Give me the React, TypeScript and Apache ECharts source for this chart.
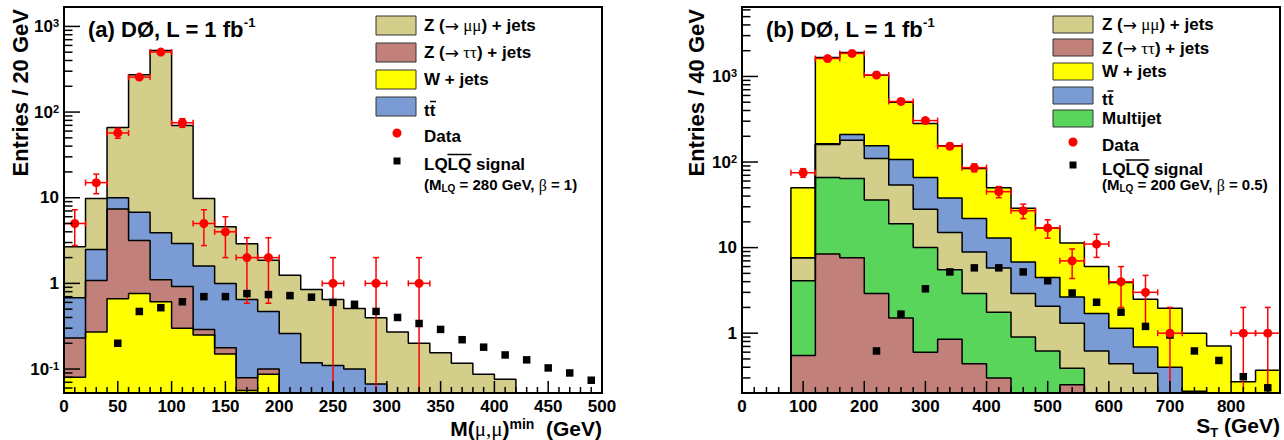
import React, { useEffect, useRef } from "react";
import * as echarts from "echarts";

const FONT = "'Liberation Sans', Arial, Helvetica, sans-serif";
const SERIF = "'Liberation Serif', 'Times New Roman', serif";
const ARROWFONT = "'DejaVu Sans', sans-serif";

// ---------------- Panel (a): M(mu,mu)^min, 20 GeV bins, 0..500 ----------------
const aBinStart = 0;
const aBinWidth = 20;
const aWjets = [0.08, 0.27, 0.66, 0.76, 0.61, 0.3, 0.25, 0.15, 0.056, 0.087, 0, 0, 0, 0, 0, 0, 0, 0, 0, 0, 0, 0, 0, 0, 0];
const aZtautau = [0.15, 0.81, 6.7, 2.4, 0.49, 0.62, 0.04, 0.027, 0.023, 0.013, 0, 0, 0, 0, 0, 0, 0, 0, 0, 0, 0, 0, 0, 0, 0];
const aTtbar = [0.45, 1.4, 2.6, 3.6, 2.8, 2.0, 1.3, 0.82, 0.57, 0.37, 0.26, 0.118, 0.11, 0.1, 0.067, 0, 0, 0, 0, 0, 0, 0, 0, 0, 0];
const aZmumu = [2.0, 7.3, 56, 265, 521, 67, 8.2, 3.6, 2.25, 1.39, 0.98, 0.73, 0.54, 0.41, 0.33, 0.27, 0.2, 0.155, 0.117, 0.087, 0.076, 0, 0, 0, 0];
const aData = [5, 15, 57, 256, 502, 75, 5, 4, 2, 2, 0, 0, 1, 0, 1, 0, 1, 0, 0, 0, 0, 0, 0, 0, 0];
const aSignal = [0, 0, 0.2, 0.47, 0.52, 0.61, 0.7, 0.7, 0.76, 0.74, 0.72, 0.69, 0.6, 0.57, 0.47, 0.4, 0.34, 0.29, 0.22, 0.18, 0.146, 0.128, 0.103, 0.09, 0.074];
const aXRange = [0, 500];
const aYRange = [0.0525, 1685];

// ---------------- Panel (b): S_T, 40 GeV bins, 80..880 ----------------
const bBinStart = 80;
const bBinWidth = 40;
const bZtautau = [0.55, 8.4, 7.6, 2.9, 1.5, 0.6, 0.85, 0.44, 0.3, 0, 0, 0.25, 0, 0, 0, 0, 0, 0, 0, 0];
const bMultijet = [3.55, 57.6, 56.4, 33.1, 17.5, 9.4, 4.65, 2.46, 1.46, 0.9, 0.62, 0.14, 0, 0, 0, 0, 0, 0, 0, 0];
const bZmumu = [3.5, 94, 116, 74, 35, 18, 9.5, 6.0, 4.0, 2.0, 1.45, 0.92, 0.62, 0.44, 0.34, 0, 0, 0, 0, 0];
const bTtbar = [0, 3, 30, 45, 53, 38, 23, 13, 7.2, 3.9, 2.4, 1.34, 1.08, 0.7, 0.35, 0.4, 0.21, 0, 0, 0];
const bWjets = [42.4, 1497, 1690, 875, 393, 216, 117, 62, 37, 22.1, 12.5, 8.65, 4.3, 2.76, 1.81, 1.56, 0.79, 0.71, 0.27, 0.37];
const bData = [75, 1620, 1860, 1040, 510, 305, 153, 86, 45, 27, 17, 7, 11, 4, 3, 1, 0, 0, 1, 1];
const bSignal = [0, 0, 0, 0.62, 1.67, 3.3, 5.2, 5.8, 5.8, 5.2, 4.1, 2.95, 2.3, 1.76, 1.2, 0.95, 0.62, 0.48, 0.31, 0.23];
const bXRange = [0, 880];
const bYRange = [0.2, 6480];

// ---------------- styles ----------------
const C_ZMM = "#d4ce8b";
const C_ZTT = "#c1817a";
const C_W = "#ffff00";
const C_TT = "#7a9bd3";
const C_MJ = "#58d55a";
const C_DATA = "#ff0000";
const FLOOR = 1e-4;

const cum = (...arrs: number[][]) => arrs[0].map((_, i) => arrs.reduce((s, a) => s + a[i], 0));

function stepData(vals: number[], x0: number, w: number) {
  const f = (v: number) => (v > 0 ? v : FLOOR);
  const pts: number[][] = [[x0, FLOOR]];
  vals.forEach((v, i) => pts.push([x0 + i * w, f(v)]));
  const n = vals.length;
  pts.push([x0 + n * w, f(vals[n - 1])]);
  pts.push([x0 + n * w, FLOOR]);
  return pts;
}

function histSeries(vals: number[], x0: number, w: number, color: string, idx: number) {
  return {
    type: "line",
    xAxisIndex: idx,
    yAxisIndex: idx,
    data: stepData(vals, x0, w),
    step: "end",
    symbol: "none",
    showSymbol: false,
    silent: true,
    lineStyle: { color: "#000", width: 1.5 },
    areaStyle: { color, opacity: 1, origin: "start" },
    z: 2,
  };
}

function errSeries(counts: number[], x0: number, w: number, yMin: number, idx: number) {
  const data = counts
    .map((n, i) => [x0 + (i + 0.5) * w, n, w / 2, n - Math.sqrt(n), n + Math.sqrt(n)])
    .filter((d) => d[1] > 0);
  return {
    type: "custom",
    xAxisIndex: idx,
    yAxisIndex: idx,
    silent: true,
    z: 4,
    encode: { x: 0, y: 1 },
    data,
    renderItem: (_p: any, api: any) => {
      const x = api.value(0), y = api.value(1), hw = api.value(2), lo = api.value(3), hi = api.value(4);
      const c = api.coord([x, y]);
      const l = api.coord([x - hw, y])[0];
      const r = api.coord([x + hw, y])[0];
      const t = api.coord([x, hi])[1];
      const hasLo = lo > yMin;
      const b = api.coord([x, hasLo ? lo : yMin])[1];
      const cap = 3;
      const st = { stroke: C_DATA, lineWidth: 1.5 };
      const ch: any[] = [
        { type: "line", shape: { x1: l, y1: c[1], x2: r, y2: c[1] }, style: st },
        { type: "line", shape: { x1: c[0], y1: t, x2: c[0], y2: b }, style: st },
        { type: "line", shape: { x1: l, y1: c[1] - cap, x2: l, y2: c[1] + cap }, style: st },
        { type: "line", shape: { x1: r, y1: c[1] - cap, x2: r, y2: c[1] + cap }, style: st },
        { type: "line", shape: { x1: c[0] - cap, y1: t, x2: c[0] + cap, y2: t }, style: st },
      ];
      if (hasLo) ch.push({ type: "line", shape: { x1: c[0] - cap, y1: b, x2: c[0] + cap, y2: b }, style: st });
      return { type: "group", children: ch };
    },
  };
}

function pointSeries(vals: number[], x0: number, w: number, idx: number, symbol: string, size: number, color: string) {
  return {
    type: "scatter",
    xAxisIndex: idx,
    yAxisIndex: idx,
    silent: true,
    z: 5,
    symbol,
    symbolSize: size,
    itemStyle: { color, opacity: 1 },
    data: vals.map((v, i) => [x0 + (i + 0.5) * w, v]).filter((d) => d[1] > 0),
  };
}

function yTicks(idx: number, yRange: number[], xMin: number) {
  const d: number[][] = [];
  for (let k = -3; k <= 5; k++)
    for (let m = 1; m <= 9; m++) {
      const v = m * Math.pow(10, k);
      if (v >= yRange[0] && v <= yRange[1]) d.push([xMin, v]);
    }
  return {
    type: "custom",
    xAxisIndex: idx,
    yAxisIndex: idx,
    silent: true,
    z: 8,
    encode: { x: 0, y: 1 },
    data: d,
    renderItem: (_p: any, api: any) => {
      const v = api.value(1);
      const pt = api.coord([api.value(0), v]);
      const lg = Math.log10(v);
      const major = Math.abs(lg - Math.round(lg)) < 1e-6;
      return {
        type: "line",
        shape: { x1: pt[0], y1: pt[1], x2: pt[0] + (major ? 16 : 8.5), y2: pt[1] },
        style: { stroke: "#000", lineWidth: 1.5 },
      };
    },
  };
}

function xTicks(idx: number, xRange: number[], minor: number, major: number, yBase: number) {
  const d: number[][] = [];
  for (let v = xRange[0] + minor; v < xRange[1] - 1e-6; v += minor) d.push([Math.round(v * 1000) / 1000, yBase]);
  return {
    type: "custom",
    xAxisIndex: idx,
    yAxisIndex: idx,
    silent: true,
    z: 8,
    encode: { x: 0, y: 1 },
    data: d,
    renderItem: (_p: any, api: any) => {
      const x = api.value(0);
      const pt = api.coord([x, api.value(1)]);
      const isMajor = Math.abs(x / major - Math.round(x / major)) < 1e-6;
      return {
        type: "line",
        shape: { x1: pt[0], y1: pt[1], x2: pt[0], y2: pt[1] - (isMajor ? 12 : 6) },
        style: { stroke: "#000", lineWidth: 1.5 },
      };
    },
  };
}

const tok = (size: number, weight = "bold", family = FONT, extra: any = {}) => ({
  fontSize: size,
  fontWeight: weight,
  fontFamily: family,
  fill: "#000",
  color: "#000",
  ...extra,
});

const powLabel = (v: number) => {
  const lg = Math.log10(v);
  const p = Math.round(lg);
  if (Math.abs(lg - p) > 1e-6) return "";
  if (p === 0) return "{b|1}";
  if (p === 1) return "{b|10}";
  return `{b|10}{s|${p}}`;
};

const yAxisDef = (idx: number, range: number[]) => ({
  type: "log",
  logBase: 10,
  gridIndex: idx,
  min: range[0],
  max: range[1],
  z: 10,
  axisLine: { show: true, lineStyle: { color: "#000", width: 2 } },
  axisTick: { show: false },
  minorTick: { show: false },
  splitLine: { show: false },
  axisLabel: {
    formatter: powLabel,
    margin: 5,
    rich: {
      b: tok(17, "bold", FONT, { lineHeight: 17, verticalAlign: "bottom" }),
      s: tok(11, "bold", FONT, { lineHeight: 11, verticalAlign: "top", padding: [0, 0, 9, 0] }),
    },
  },
});

const xAxisDef = (idx: number, range: number[], step: number) => ({
  type: "value",
  gridIndex: idx,
  min: range[0],
  max: range[1],
  interval: step,
  z: 10,
  axisLine: { show: true, lineStyle: { color: "#000", width: 2 } },
  axisTick: { show: false },
  minorTick: { show: false },
  splitLine: { show: false },
  axisLabel: {
    formatter: (v: number) => (Math.abs(v % step) < 1e-6 ? String(v) : ""),
    margin: 5,
    fontSize: 17,
    fontWeight: "bold",
    fontFamily: FONT,
    color: "#000",
  },
});

function legendBox(x: number, y: number, h: number, fill: string) {
  return { type: "rect", shape: { x, y, width: 40, height: h }, style: { fill, stroke: "#333", lineWidth: 1 }, z: 20 };
}
function legendText(x: number, y: number, text: string, rich: any, va = "middle") {
  return { type: "text", x, y, style: { text, rich, align: "left", verticalAlign: va }, z: 20 };
}
function hline(x1: number, x2: number, y: number, w = 1.5) {
  return { type: "line", shape: { x1, y1: y, x2, y2: y }, style: { stroke: "#000", lineWidth: w }, z: 20 };
}

const legRich = {
  b: tok(17),
  g: tok(17, "normal", SERIF),
  a: tok(17, "normal", ARROWFONT),
};
const subRich = {
  b: tok(15, "bold", FONT, { lineHeight: 16, verticalAlign: "top" }),
  g: tok(16, "normal", SERIF, { lineHeight: 16, verticalAlign: "top" }),
  u: tok(10, "bold", FONT, { lineHeight: 10, verticalAlign: "bottom", padding: [12, 0, 0, 0] }),
};
const titleRich = {
  b: tok(22, "bold", FONT, { lineHeight: 24, verticalAlign: "bottom" }),
  s: tok(13, "bold", FONT, { lineHeight: 13, verticalAlign: "top", padding: [0, 0, 11, 0] }),
};

function buildGraphic() {
  const els: any[] = [];
  // titles
  els.push(legendText(88, 28, "{b|(a) DØ, L = 1 fb}{s|-1}", titleRich));
  els.push(legendText(766, 28, "{b|(b) DØ, L = 1 fb}{s|-1}", titleRich));
  // y axis titles
  els.push({ type: "text", x: 20, y: 9, rotation: Math.PI / 2, style: { text: "Entries / 20 GeV", font: `bold 22px ${FONT}`, fill: "#000", align: "right", verticalAlign: "middle" }, z: 20 });
  els.push({ type: "text", x: 696, y: 9, rotation: Math.PI / 2, style: { text: "Entries / 40 GeV", font: `bold 22px ${FONT}`, fill: "#000", align: "right", verticalAlign: "middle" }, z: 20 });
  // x axis titles
  els.push({
    type: "text", x: 602, y: 428, z: 20,
    style: {
      text: "{b|M(}{g|μ,μ}{b|)}{s|min}{b|  (GeV)}", align: "right", verticalAlign: "middle",
      rich: {
        b: tok(21, "bold", FONT, { lineHeight: 22, verticalAlign: "bottom" }),
        g: tok(21, "normal", SERIF, { lineHeight: 22, verticalAlign: "bottom" }),
        s: tok(14, "bold", FONT, { lineHeight: 14, verticalAlign: "top", padding: [0, 0, 8, 0] }),
      },
    },
  });
  els.push({
    type: "text", x: 1280, y: 427, z: 20,
    style: {
      text: "{b|S}{u|T}{b| (GeV)}", align: "right", verticalAlign: "middle",
      rich: {
        b: tok(21, "bold", FONT, { lineHeight: 24, verticalAlign: "top" }),
        u: tok(13, "bold", FONT, { lineHeight: 13, verticalAlign: "bottom", padding: [13, 0, 0, 0] }),
      },
    },
  });

  // legend (a)
  const aBoxY = [16, 43, 70, 97];
  [C_ZMM, C_ZTT, C_W, C_TT].forEach((c, i) => els.push(legendBox(376, aBoxY[i], 19, c)));
  els.push(legendText(424, 25.5, "{b|Z (}{a|→}{g| μμ}{b|) + jets}", legRich));
  els.push(legendText(424, 52.5, "{b|Z (}{a|→}{g| ττ}{b|) + jets}", legRich));
  els.push(legendText(424, 79.5, "{b|W + jets}", legRich));
  els.push(legendText(424, 110, "{b|tt}", legRich));
  els.push(hline(430, 436, 101.5));
  els.push({ type: "circle", shape: { cx: 397, cy: 133, r: 4.5 }, style: { fill: C_DATA }, z: 20 });
  els.push(legendText(424, 136, "{b|Data}", legRich));
  els.push({ type: "rect", shape: { x: 393.5, y: 157.5, width: 7, height: 7 }, style: { fill: "#000" }, z: 20 });
  els.push(legendText(424, 164, "{b|LQLQ signal}", legRich));
  els.push(hline(447.5, 471.5, 154.5));
  els.push(legendText(424, 177, "{b|(M}{u|LQ}{b| = 280 GeV, }{g|β}{b| = 1)}", subRich, "top"));

  // legend (b)
  const bBoxY = [16, 39, 63, 87, 110];
  [C_ZMM, C_ZTT, C_W, C_TT, C_MJ].forEach((c, i) => els.push(legendBox(1053, bBoxY[i], 17, c)));
  els.push(legendText(1102, 24.5, "{b|Z (}{a|→}{g| μμ}{b|) + jets}", legRich));
  els.push(legendText(1102, 48, "{b|Z (}{a|→}{g| ττ}{b|) + jets}", legRich));
  els.push(legendText(1102, 71, "{b|W + jets}", legRich));
  els.push(legendText(1102, 99.5, "{b|tt}", legRich));
  els.push(hline(1107.5, 1113.5, 91));
  els.push(legendText(1102, 118.5, "{b|Multijet}", legRich));
  els.push({ type: "circle", shape: { cx: 1073, cy: 142, r: 4.5 }, style: { fill: C_DATA }, z: 20 });
  els.push(legendText(1102, 145, "{b|Data}", legRich));
  els.push({ type: "rect", shape: { x: 1069.5, y: 161.5, width: 7, height: 7 }, style: { fill: "#000" }, z: 20 });
  els.push(legendText(1102, 169, "{b|LQLQ signal}", legRich));
  els.push(hline(1125.5, 1149.5, 160));
  els.push(legendText(1102, 177, "{b|(M}{u|LQ}{b| = 200 GeV, }{g|β}{b| = 0.5)}", subRich, "top"));
  return els;
}

export default function App() {
  const ref = useRef<HTMLDivElement>(null);
  useEffect(() => {
    if (!ref.current) return;
    const chart = echarts.init(ref.current, undefined, { renderer: "svg" });

    const aLayers = [
      { v: cum(aWjets, aZtautau, aTtbar, aZmumu), c: C_ZMM },
      { v: cum(aWjets, aZtautau, aTtbar), c: C_TT },
      { v: cum(aWjets, aZtautau), c: C_ZTT },
      { v: aWjets, c: C_W },
    ];
    const bLayers = [
      { v: cum(bZtautau, bMultijet, bZmumu, bTtbar, bWjets), c: C_W },
      { v: cum(bZtautau, bMultijet, bZmumu, bTtbar), c: C_TT },
      { v: cum(bZtautau, bMultijet, bZmumu), c: C_ZMM },
      { v: cum(bZtautau, bMultijet), c: C_MJ },
      { v: bZtautau, c: C_ZTT },
    ];

    const series: any[] = [
      ...aLayers.map((l) => histSeries(l.v, aBinStart, aBinWidth, l.c, 0)),
      ...bLayers.map((l) => histSeries(l.v, bBinStart, bBinWidth, l.c, 1)),
      pointSeries(aSignal, aBinStart, aBinWidth, 0, "rect", 7.5, "#000"),
      pointSeries(bSignal, bBinStart, bBinWidth, 1, "rect", 7.5, "#000"),
      errSeries(aData, aBinStart, aBinWidth, aYRange[0], 0),
      errSeries(bData, bBinStart, bBinWidth, bYRange[0], 1),
      pointSeries(aData, aBinStart, aBinWidth, 0, "circle", 9, C_DATA),
      pointSeries(bData, bBinStart, bBinWidth, 1, "circle", 9, C_DATA),
      yTicks(0, aYRange, aXRange[0]),
      yTicks(1, bYRange, bXRange[0]),
      xTicks(0, aXRange, 10, 50, aYRange[0]),
      xTicks(1, bXRange, 20, 100, bYRange[0]),
    ];

    chart.setOption({
      animation: false,
      backgroundColor: "#fff",
      grid: [
        { left: 64, top: 7, width: 538, height: 386, show: true, borderColor: "#000", borderWidth: 2, backgroundColor: "transparent", z: 10 },
        { left: 742, top: 7, width: 538, height: 386, show: true, borderColor: "#000", borderWidth: 2, backgroundColor: "transparent", z: 10 },
      ],
      xAxis: [xAxisDef(0, aXRange, 50), xAxisDef(1, bXRange, 100)],
      yAxis: [yAxisDef(0, aYRange), yAxisDef(1, bYRange)],
      series,
      graphic: { elements: buildGraphic() },
    });
    return () => chart.dispose();
  }, []);
  return <div ref={ref} style={{ position: "absolute", left: 0, top: 0, width: 1284, height: 440 }} />;
}
